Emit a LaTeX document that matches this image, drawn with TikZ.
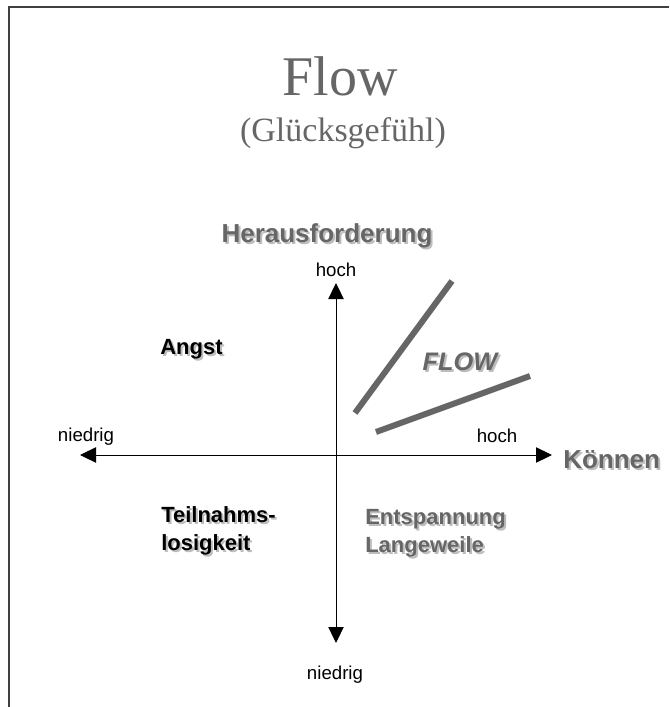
\documentclass[tikz,border=0pt]{standalone}
\usepackage{fontspec}
\setmainfont{Liberation Serif}
\setsansfont{Liberation Sans}
\usepackage{xcolor}
\usetikzlibrary{arrows.meta}
\definecolor{textgray}{HTML}{666666}
\definecolor{shadowgray}{HTML}{BDBDBD}
\newcommand{\shad}[1]{\makebox[0pt][l]{\raisebox{-1.5pt}{\kern1.5pt\textcolor{shadowgray}{#1}}}#1}
\begin{document}
\begin{tikzpicture}[x=0.75pt, y=-0.75pt,
    axis/.style={line width=0.75pt, -{Triangle[length=12pt, width=11.5pt]}},
    flowline/.style={line width=4.5pt, textgray},
    small/.style={font=\sffamily\fontsize{14}{16}\selectfont, inner sep=0pt, anchor=base},
    heading/.style={font=\sffamily\bfseries\fontsize{19.5}{23}\selectfont, textgray, inner sep=0pt, anchor=base},
    quad/.style={font=\sffamily\bfseries\fontsize{16.5}{21}\selectfont, align=left, inner sep=0pt, anchor=north west}]
    \useasboundingbox (0,0) rectangle (669,707);
    \draw[line width=1.5pt, black!75] (8.5,707) -- (8.5,6.5) -- (669,6.5);
    % Title
    \node[font=\fontsize{42}{48}\selectfont, textgray, inner sep=0pt, anchor=base] (title) at (340,95) {Flow};
    \node[font=\fontsize{25.5}{30}\selectfont, textgray, inner sep=0pt, anchor=base] (subtitle) at (343,141) {(Glücksgefühl)};
    % Axes
    \coordinate (O) at (336,455);
    \coordinate (top) at (336,283);
    \coordinate (bottom) at (336,643);
    \coordinate (left) at (80,455);
    \coordinate (right) at (552,455);
    \draw[axis] (O) -- (top);
    \draw[axis] (O) -- (bottom);
    \draw[axis] (O) -- (left);
    \draw[axis] (O) -- (right);
    \node[heading] (challenge) at (327,242) {\shad{Herausforderung}};
    \node[heading, anchor=base west] (skill) at (563,468) {\shad{Können}};
    \node[small] (tophigh) at (336,276) {hoch};
    \node[small] (righthigh) at (497,442) {hoch};
    \node[small] (leftlow) at (86,441) {niedrig};
    \node[small] (bottomlow) at (335,679) {niedrig};
    % Flow channel
    \coordinate (f1a) at (355,413);
    \coordinate (f1b) at (452,281);
    \coordinate (f2a) at (376,432);
    \coordinate (f2b) at (530,376);
    \draw[flowline] (f1a) -- (f1b);
    \draw[flowline] (f2a) -- (f2b);
    \node[heading, font=\sffamily\bfseries\itshape\fontsize{19}{23}\selectfont] (flow) at (460,370) {\shad{FLOW}};
    % Quadrants
    \node[quad] (fear) at (160,339) {\shad{Angst}};
    \node[quad] (apathy) at (161,506) {\shad{Teilnahms-}\\\shad{losigkeit}};
    \node[quad, textgray] (boredom) at (365,509) {\shad{Entspannung}\\\shad{Langeweile}};
\end{tikzpicture}
\end{document}
